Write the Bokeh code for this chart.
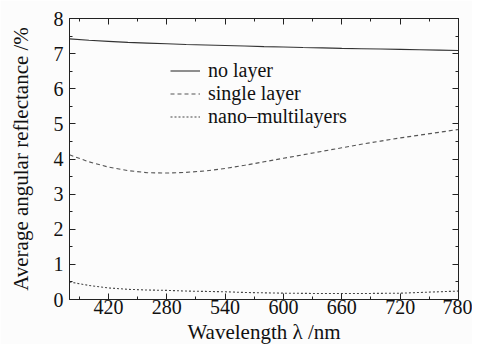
from bokeh.plotting import figure
from bokeh.models import FixedTicker, LinearAxis, Legend, LegendItem, Title, Range1d
from bokeh.embed import file_html
from bokeh.resources import INLINE

wavelength = [380, 400, 420, 440, 460, 480, 500, 520, 540, 560, 580, 600,
              620, 640, 660, 680, 700, 720, 740, 760, 780]
no_layer = [7.42, 7.38, 7.35, 7.32, 7.30, 7.28, 7.26, 7.245, 7.23, 7.215, 7.20, 7.19,
            7.175, 7.163, 7.15, 7.14, 7.13, 7.12, 7.11, 7.10, 7.09]
single_layer = [4.12, 3.92, 3.77, 3.67, 3.61, 3.60, 3.62, 3.66, 3.73, 3.82, 3.92, 4.02,
                4.12, 4.22, 4.32, 4.42, 4.51, 4.60, 4.68, 4.76, 4.84]
nano_multi = [0.50, 0.40, 0.33, 0.29, 0.27, 0.26, 0.24, 0.23, 0.22, 0.20, 0.19, 0.18,
              0.175, 0.17, 0.17, 0.17, 0.175, 0.18, 0.20, 0.22, 0.24]

x_tick_values = [420, 480, 540, 600, 660, 720, 780]
x_tick_labels = ["420", "280", "540", "600", "660", "720", "780"]
x_minor = [390, 450, 510, 570, 630, 690, 750]
y_tick_values = [0, 1, 2, 3, 4, 5, 6, 7, 8]
y_minor = [0.5, 1.5, 2.5, 3.5, 4.5, 5.5, 6.5, 7.5]

FONT = "Liberation Serif"
BG = "#fcfcfc"
INK = "#222222"

p = figure(width=472, height=344, output_backend="svg", toolbar_location=None,
           x_range=Range1d(380, 780), y_range=Range1d(0, 8),
           min_border_left=69, min_border_right=14, min_border_top=18, min_border_bottom=10)
p.background_fill_color = BG
p.border_fill_color = BG
p.outline_line_color = INK
p.outline_line_width = 1
p.grid.visible = False

r1 = p.line(wavelength, no_layer, line_color="#333333", line_width=1.1)
r2 = p.line(wavelength, single_layer, line_color="#555555", line_width=1.1, line_dash="4 3")
r3 = p.line(wavelength, nano_multi, line_color="#444444", line_width=1.1, line_dash="2 2")

def style(ax, labels=True):
    ax.axis_line_color = INK
    ax.major_tick_line_color = INK
    ax.minor_tick_line_color = INK
    ax.major_tick_in = 6
    ax.major_tick_out = 0
    ax.minor_tick_in = 3
    ax.minor_tick_out = 0
    ax.major_label_text_font = FONT
    ax.major_label_text_font_size = "20px"
    ax.major_label_text_color = "#111111"
    ax.axis_label_text_font = FONT
    ax.axis_label_text_font_size = "21px"
    ax.axis_label_text_font_style = "normal"
    ax.axis_label_text_color = "#111111"
    if not labels:
        ax.major_label_text_font_size = "0px"
        ax.major_label_text_alpha = 0

xt = FixedTicker(ticks=x_tick_values, minor_ticks=x_minor)
yt = FixedTicker(ticks=y_tick_values, minor_ticks=y_minor)

p.xaxis.ticker = xt
p.yaxis.ticker = yt
p.xaxis.major_label_overrides = {v: l for v, l in zip(x_tick_values, x_tick_labels)}
for ax in p.xaxis:
    style(ax)
    ax.major_label_standoff = 0
for ax in p.yaxis:
    style(ax)
    ax.major_label_standoff = 6
    ax.axis_label = "Average angular reflectance /%"
    ax.axis_label_standoff = 18

top = LinearAxis(ticker=xt)
style(top, labels=False)
p.add_layout(top, "above")
right = LinearAxis(ticker=yt)
style(right, labels=False)
p.add_layout(right, "right")

xlabel = Title(text="Wavelength λ /nm", align="center", offset=18,
               text_font=FONT, text_font_size="21px", text_font_style="normal",
               text_color="#111111", standoff=2)
p.add_layout(xlabel, "below")

legend = Legend(items=[LegendItem(label="no layer", renderers=[r1]),
                       LegendItem(label="single layer", renderers=[r2]),
                       LegendItem(label="nano\u2013multilayers", renderers=[r3])],
                location=(101, 171), glyph_width=30, glyph_height=19, label_height=19,
                label_standoff=8, spacing=-3, padding=0, margin=0,
                border_line_alpha=0, background_fill_alpha=0,
                label_text_font=FONT, label_text_font_size="20px", label_text_color="#111111")
p.add_layout(legend, "center")

open("out.html", "w").write(file_html(p, INLINE))
